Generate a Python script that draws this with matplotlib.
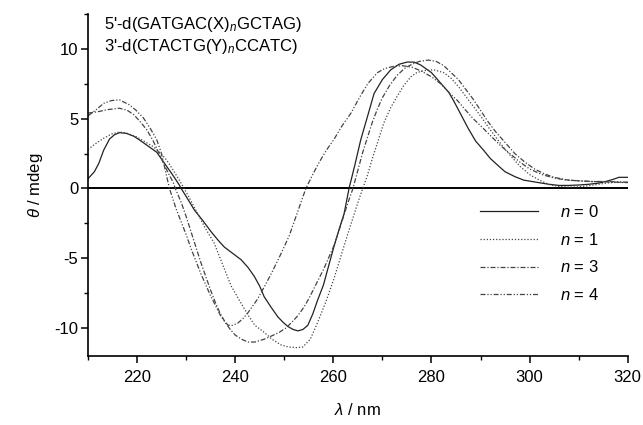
import matplotlib
matplotlib.use("Agg")
import matplotlib.pyplot as plt
from matplotlib.ticker import MultipleLocator

plt.rcParams['font.family'] = ['Liberation Sans', 'DejaVu Sans']
plt.rcParams['mathtext.fontset'] = 'custom'
plt.rcParams['mathtext.it'] = 'Liberation Sans:italic'
plt.rcParams['mathtext.rm'] = 'Liberation Sans'
plt.rcParams['axes.unicode_minus'] = False

# n = 0 (solid)
wl_0 = [210, 211.3, 212.2, 213.2, 214.4, 215.4, 216.4, 217.8, 219.3, 220.6, 222, 224, 226, 227.4, 228.6, 229,
        230.4, 231.7, 233.4, 235.1, 236.5, 237.8, 239.5, 241.2, 242.6, 243.9, 245, 245.9, 247.3, 248.7, 249.8,
        250.8, 251.8, 252.8, 253.8, 254.8, 255.8, 256.8, 258, 259, 260.1, 261.2, 262.2, 263.2, 264.4, 265.6,
        267, 268.3, 270, 271.7, 273.4, 275.1, 276.5, 277.8, 280, 282, 283.5, 284.5, 286, 287.5, 289, 290.6,
        292, 293.4, 295, 297, 298.8, 300.5, 302.2, 304, 306, 308, 310, 312, 314, 315.5, 317, 318.2, 320]
th_0 = [0.7, 1.2, 1.8, 2.75, 3.55, 3.85, 4.0, 3.95, 3.75, 3.45, 3.1, 2.6, 1.6, 0.9, 0.25, 0,
        -0.8, -1.55, -2.3, -3.1, -3.7, -4.2, -4.65, -5.1, -5.65, -6.3, -7.0, -7.75, -8.5, -9.2, -9.6,
        -9.9, -10.1, -10.2, -10.1, -9.8, -9.0, -8.0, -6.9, -5.6, -4.2, -2.9, -1.8, 0, 1.7, 3.5,
        5.2, 6.8, 7.8, 8.5, 8.9, 9.06, 9.05, 8.85, 8.3, 7.5, 6.9, 6.3, 5.3, 4.3, 3.4, 2.75,
        2.15, 1.7, 1.2, 0.85, 0.6, 0.5, 0.4, 0.3, 0.22, 0.22, 0.25, 0.3, 0.38, 0.5, 0.65, 0.8, 0.8]

# n = 1 (dotted)
wl_1 = [210, 211.5, 213.2, 214.8, 216.4, 218, 219.9, 221.6, 223.3, 224.7, 226, 227.3, 228.6, 229.6, 231, 232.5,
        234, 235.7, 237.5, 239.2, 241, 242.5, 244, 245.9, 247.5, 249.3, 250.8, 252.4, 253.8, 255.3, 256.8, 258.5,
        260.1, 261.5, 263, 264.2, 265.2, 266, 267, 268, 269.2, 270.3, 271.7, 273, 274.4, 275.8, 277, 278.5, 280.5,
        282.5, 284, 285.5, 287, 288.5, 290, 292, 293.5, 295, 296.5, 298, 300, 302, 304, 306, 308, 310, 312,
        314, 316, 318, 320]
th_1 = [2.8, 3.2, 3.6, 3.9, 4.05, 3.95, 3.7, 3.35, 3.0, 2.55, 2.05, 1.35, 0.6, 0, -0.9, -1.9,
        -2.9, -3.9, -5.5, -7.0, -8.1, -9.0, -9.8, -10.3, -10.8, -11.2, -11.35, -11.4, -11.35, -10.8, -9.6, -8.1,
        -6.5, -4.9, -3.2, -1.9, -0.8, 0, 1.0, 2.2, 3.5, 4.7, 5.8, 6.6, 7.4, 8.0, 8.3, 8.45, 8.5,
        8.3, 7.9, 7.3, 6.6, 5.9, 5.2, 4.2, 3.5, 2.8, 2.2, 1.6, 1.0, 0.6, 0.28, 0.15, 0.1, 0.12, 0.2,
        0.3, 0.4, 0.45, 0.45]

# n = 3 (dash-dot)
wl_3 = [210, 212, 214, 216.4, 218, 219.3, 220.6, 222, 223.3, 224.5, 225.8, 227.4, 227.8, 229, 230, 231, 232,
        233, 234, 235, 236, 237, 238, 239, 240, 241.3, 242.6, 244, 245.9, 247.5, 249, 250.3, 251.5, 252.8, 254,
        255, 256, 257, 258, 259, 260, 261, 262, 263, 264, 265, 266, 267, 268, 269, 270, 271.5, 273, 274.5,
        276, 277.5, 279.4, 281, 282.5, 284, 285.5, 287, 288.5, 290, 291.5, 293, 295, 297, 299, 301, 303, 305,
        307.5, 310, 312.5, 315, 317.5, 320]
th_3 = [5.4, 5.5, 5.65, 5.75, 5.6, 5.3, 4.8, 4.2, 3.4, 2.5, 1.5, 0.4, 0, -1.0, -2.0, -3.1, -4.2,
        -5.3, -6.3, -7.3, -8.2, -9.0, -9.6, -10.1, -10.5, -10.8, -11.0, -11.0, -10.8, -10.55, -10.3, -10.0, -9.6, -9.1, -8.5,
        -7.9, -7.2, -6.5, -5.8, -5.0, -4.2, -3.2, -2.1, -1.0, 0, 1.3, 2.6, 3.7, 4.8, 5.7, 6.5, 7.4, 8.1, 8.6,
        8.9, 9.1, 9.2, 9.1, 8.8, 8.3, 7.8, 7.1, 6.4, 5.6, 4.8, 4.1, 3.3, 2.5, 1.9, 1.4, 1.05, 0.8,
        0.62, 0.55, 0.5, 0.48, 0.45, 0.42]

# n = 4 (dash-dot-dot)
wl_4 = [210, 211.5, 213.2, 214.8, 216.4, 218.4, 219.8, 221.3, 222.7, 224, 224.9, 225.6, 226.6, 228, 229, 230,
        231, 232, 233, 234, 235, 236, 237, 238, 238.6, 239.5, 240.5, 241.5, 242.5, 243.5, 244.6, 246, 247.5,
        249.3, 251, 252.8, 254.4, 255.8, 257, 258.5, 260.1, 261.8, 263.6, 265.3, 267, 268, 269, 270.5, 272.3,
        274, 276, 278, 280, 281.9, 283.5, 285.3, 287, 288.5, 290, 292, 294, 296, 298, 300, 302.5, 305,
        307.5, 310, 312.5, 315, 317.5, 320]
th_4 = [5.2, 5.6, 6.1, 6.3, 6.35, 6.0, 5.6, 5.05, 4.3, 3.5, 2.6, 1.55, 0, -1.5, -2.4, -3.3,
        -4.3, -5.2, -6.1, -6.9, -7.7, -8.4, -9.1, -9.6, -9.8, -9.8, -9.65, -9.35, -8.95, -8.45, -7.9, -7.0, -6.0,
        -4.7, -3.4, -1.6, 0, 1.0, 1.8, 2.7, 3.5, 4.5, 5.4, 6.5, 7.5, 7.9, 8.3, 8.6, 8.75,
        8.8, 8.7, 8.4, 8.0, 7.5, 6.9, 6.3, 5.6, 5.0, 4.5, 3.8, 3.1, 2.5, 1.9, 1.4, 1.0, 0.75,
        0.6, 0.55, 0.5, 0.5, 0.48, 0.45]

fig = plt.figure(figsize=(6.43, 4.25), dpi=100)
ax = fig.add_axes([88 / 643, 1 - 356 / 425, (627.7 - 88) / 643, (356 - 14) / 425])

ax.plot(wl_0, th_0, color='#222222', lw=0.9, ls='-', label=r'$n$ = 0')
ax.plot(wl_1, th_1, color='#444444', lw=0.9, ls=(0, (1, 1.5)), label=r'$n$ = 1')
ax.plot(wl_3, th_3, color='#444444', lw=0.9, ls=(0, (4, 1.5, 1, 1.5)), label=r'$n$ = 3')
ax.plot(wl_4, th_4, color='#444444', lw=0.9, ls=(0, (4, 1.5, 1, 1.5, 1, 1.5)), label=r'$n$ = 4')
ax.axhline(0, color='black', lw=1.4, zorder=1)

ax.set_xlim(210, 320)
ax.set_ylim(-12, 12.5)
ax.xaxis.set_major_locator(MultipleLocator(20))
ax.xaxis.set_minor_locator(MultipleLocator(10))
ax.yaxis.set_major_locator(MultipleLocator(5))
ax.yaxis.set_minor_locator(MultipleLocator(2.5))
ax.set_xticks([220, 240, 260, 280, 300, 320])
ax.spines['top'].set_visible(False)
ax.spines['right'].set_visible(False)
for s in ['left', 'bottom']:
    ax.spines[s].set_linewidth(1.2)
ax.tick_params(which='major', direction='out', length=5, width=1.1, labelsize=12)
ax.tick_params(axis='x', which='major', pad=5)
ax.tick_params(axis='y', which='major', pad=2)
ax.tick_params(which='minor', direction='out', length=3, width=1.0)

ax.set_xlabel(r'$\lambda$ / nm', fontsize=12, labelpad=12)
ax.set_ylabel(r'$\theta$ / mdeg', fontsize=12, labelpad=7)

ax.text(0.03, 0.998, "5'-d(GATGAC(X)$_n$GCTAG)\n3'-d(CTACTG(Y)$_n$CCATC)", transform=ax.transAxes,
        fontsize=12, va='top', ha='left', linespacing=1.25)

leg = ax.legend(loc='upper left', bbox_to_anchor=(480 / 643, 1 - 204 / 425), bbox_transform=fig.transFigure,
                frameon=False, fontsize=12, handlelength=3.5, handletextpad=1.3, labelspacing=0.7,
                borderpad=0, borderaxespad=0)

fig.savefig('out.png', dpi=100)
